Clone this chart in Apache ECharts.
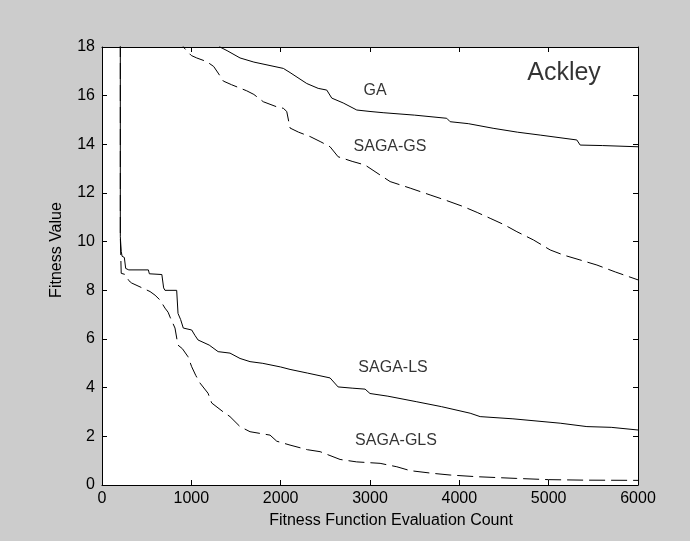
<!DOCTYPE html>
<html>
<head>
<meta charset="utf-8">
<script src="https://cdn.jsdelivr.net/npm/echarts@6/dist/echarts.min.js"></script>
<style>
html,body{margin:0;padding:0;background:#cccccc;}
#chart{width:690px;height:541px;}
</style>
</head>
<body>
<div id="chart"></div>
<script>
// ---- data (x: evaluation count, y: fitness value) ----
const xTicks = [0, 1000, 2000, 3000, 4000, 5000, 6000];
const yTicks = [0, 2, 4, 6, 8, 10, 12, 14, 16, 18];

const gaData = [
  [205, 30], [1320, 18.0], [1400, 17.85], [1545, 17.55], [1700, 17.38], [2030, 17.12],
  [2105, 16.95], [2292, 16.5], [2420, 16.3], [2516, 16.23], [2572, 15.9], [2700, 15.7],
  [2852, 15.41], [3000, 15.35], [3147, 15.3], [3500, 15.2], [3859, 15.07], [3897, 14.93],
  [4100, 14.85], [4378, 14.66], [4650, 14.5], [4905, 14.38], [5315, 14.18], [5353, 13.97],
  [5600, 13.95], [6000, 13.9]
];

const sagaGsData = [
  [205, 30], [910, 18], [960, 17.8], [1000, 17.65], [1060, 17.55], [1172, 17.4], [1250, 17.2],
  [1300, 16.93], [1358, 16.6], [1450, 16.45], [1620, 16.2], [1700, 16.05], [1806, 15.75],
  [1950, 15.55], [2030, 15.48], [2068, 15.35], [2105, 14.67], [2200, 14.5], [2329, 14.32],
  [2450, 14.1], [2553, 13.9], [2643, 13.49], [2800, 13.3], [2945, 13.15], [3113, 12.74],
  [3225, 12.47], [3450, 12.2], [3673, 11.92], [3850, 11.7], [4046, 11.44], [4200, 11.2],
  [4345, 10.96], [4500, 10.7], [4644, 10.41], [4830, 10.07], [5017, 9.66], [5166, 9.45],
  [5350, 9.25], [5540, 9.04], [5750, 8.75], [6000, 8.43]
];

const sagaLsData = [
  [205, 30], [205, 10.2], [215, 9.6], [225, 9.4], [250, 9.35], [265, 8.9], [300, 8.84],
  [519, 8.84], [530, 8.68], [670, 8.65], [690, 8.1], [705, 8.0], [836, 8.0], [851, 7.05],
  [880, 6.8], [910, 6.45], [1004, 6.37], [1040, 6.15], [1075, 5.96], [1200, 5.75],
  [1300, 5.48], [1433, 5.42], [1545, 5.2], [1657, 5.07], [1800, 5.0], [2000, 4.85],
  [2105, 4.75], [2300, 4.6], [2553, 4.4], [2643, 4.03], [2800, 3.98], [2945, 3.94],
  [3000, 3.76], [3200, 3.65], [3524, 3.42], [3800, 3.22], [4121, 2.95], [4233, 2.81],
  [4600, 2.72], [5129, 2.54], [5428, 2.4], [5700, 2.37], [6000, 2.26]
];

const sagaGlsData = [
  [205, 30], [205, 10.2], [215, 8.7], [260, 8.65], [300, 8.4], [332, 8.3], [450, 8.1],
  [538, 7.95], [594, 7.8], [650, 7.6], [705, 7.27], [740, 7.1], [762, 6.9], [817, 6.45],
  [850, 5.75], [900, 5.6], [963, 5.27], [1004, 4.86], [1050, 4.5], [1097, 4.19],
  [1187, 3.77], [1228, 3.37], [1355, 3.01], [1433, 2.81], [1545, 2.4], [1657, 2.19],
  [1881, 2.05], [1956, 1.8], [2105, 1.64], [2300, 1.45], [2441, 1.37], [2665, 1.05],
  [2850, 0.95], [3113, 0.89], [3300, 0.75], [3449, 0.59], [3700, 0.48], [3897, 0.41],
  [4200, 0.34], [4644, 0.27], [5000, 0.22], [5390, 0.2], [6000, 0.19]
];

// annotation texts anchored in data coordinates
const curveLabels = [
  { text: 'GA', x: 3056, y: 16.21 },
  { text: 'SAGA-GS', x: 3224, y: 13.91 },
  { text: 'SAGA-LS', x: 3258, y: 4.81 },
  { text: 'SAGA-GLS', x: 3291, y: 1.81 }
];
const titleLabel = { text: 'Ackley', x: 5172, y: 16.93 };

const xTitle = 'Fitness Function Evaluation Count';
const yTitle = 'Fitness Value';

// ---- chart ----
const FONT = "'Liberation Sans', Arial, sans-serif";
const chart = echarts.init(document.getElementById('chart'));

function lineSeries(name, data, dashed) {
  return {
    name: name,
    type: 'line',
    data: data,
    showSymbol: false,
    symbol: 'none',
    clip: true,
    animation: false,
    lineStyle: { color: '#000', width: 1, type: dashed ? [16, 6] : 'solid' },
    z: 3
  };
}

const axisLineStyle = { show: true, onZero: false, lineStyle: { color: '#000', width: 1 } };
const tickStyle = { show: true, inside: true, length: 5, lineStyle: { color: '#000', width: 1 } };
const plainNum = v => String(v);

chart.setOption({
  backgroundColor: '#cccccc',
  animation: false,
  grid: { left: 102, right: 52, top: 47, bottom: 56, show: true, backgroundColor: '#ffffff', borderWidth: 0 },
  xAxis: [
    {
      type: 'value', min: xTicks[0], max: xTicks[xTicks.length - 1], interval: xTicks[1] - xTicks[0],
      position: 'bottom',
      axisLine: axisLineStyle, axisTick: tickStyle, splitLine: { show: false },
      axisLabel: { color: '#000', fontSize: 16, fontFamily: FONT, margin: 6, formatter: plainNum }
    },
    {
      type: 'value', min: xTicks[0], max: xTicks[xTicks.length - 1], interval: xTicks[1] - xTicks[0],
      position: 'top',
      axisLine: axisLineStyle, axisTick: tickStyle, splitLine: { show: false },
      axisLabel: { show: false }
    }
  ],
  yAxis: [
    {
      type: 'value', min: yTicks[0], max: yTicks[yTicks.length - 1], interval: yTicks[1] - yTicks[0],
      position: 'left',
      axisLine: axisLineStyle, axisTick: tickStyle, splitLine: { show: false },
      axisLabel: { color: '#000', fontSize: 16, fontFamily: FONT, margin: 7, formatter: plainNum }
    },
    {
      type: 'value', min: yTicks[0], max: yTicks[yTicks.length - 1], interval: yTicks[1] - yTicks[0],
      position: 'right',
      axisLine: axisLineStyle, axisTick: tickStyle, splitLine: { show: false },
      axisLabel: { show: false }
    }
  ],
  series: [
    lineSeries('GA', gaData, false),
    lineSeries('SAGA-GS', sagaGsData, true),
    lineSeries('SAGA-LS', sagaLsData, false),
    lineSeries('SAGA-GLS', sagaGlsData, true),
    {
      type: 'scatter',
      symbolSize: 0,
      silent: true,
      z: 5,
      data: curveLabels.map(d => ({ value: [d.x, d.y], name: d.text })),
      label: {
        show: true, position: 'inside', formatter: p => p.name,
        color: '#000', fontSize: 16, fontFamily: FONT, align: 'center', verticalAlign: 'middle'
      }
    },
    {
      type: 'scatter',
      symbolSize: 0,
      silent: true,
      z: 5,
      data: [{ value: [titleLabel.x, titleLabel.y], name: titleLabel.text }],
      label: {
        show: true, position: 'inside', formatter: p => p.name,
        color: '#000', fontSize: 25, fontFamily: FONT, align: 'center', verticalAlign: 'middle'
      }
    }
  ],
  graphic: [
    {
      type: 'text', x: 391, y: 521,
      style: { text: xTitle, fill: '#000', font: '16px ' + FONT, textAlign: 'center', textVerticalAlign: 'middle' }
    },
    {
      type: 'text', x: 57, y: 250, rotation: Math.PI / 2,
      style: { text: yTitle, fill: '#000', font: '16px ' + FONT, textAlign: 'center', textVerticalAlign: 'middle' }
    }
  ]
});
</script>
</body>
</html>
